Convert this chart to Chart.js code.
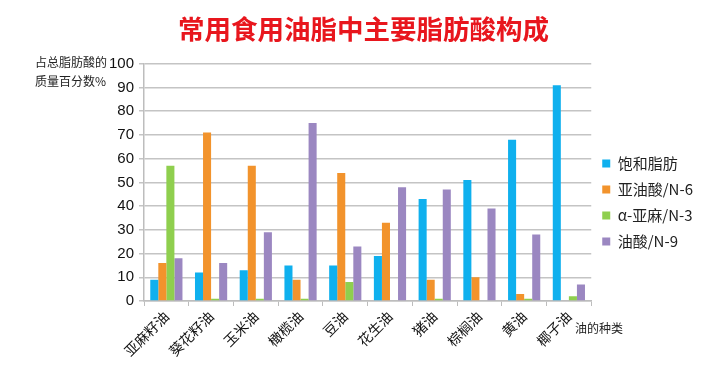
<!DOCTYPE html>
<html>
<head>
<meta charset="utf-8">
<script src="https://cdn.jsdelivr.net/npm/chart.js@4"></script>
<style>
    html, body { margin: 0; padding: 0; background: #ffffff; }
    #fatChart { display: block; }
</style>
</head>
<body>
<canvas id="fatChart" width="718" height="373"></canvas>
<script>
const categories = ["亚麻籽油", "葵花籽油", "玉米油", "橄榄油", "豆油", "花生油", "猪油", "棕榈油", "黄油", "椰子油"];
const saturated = [9, 12, 13, 15, 15, 19, 43, 51, 68, 91];
const linoleic = [16, 71, 57, 9, 54, 33, 9, 10, 3, 0];
const alphaLinolenic = [57, 1, 1, 1, 8, 0.3, 1, 0.3, 1, 2];
const oleic = [18, 16, 29, 75, 23, 48, 47, 39, 28, 7];
const yTicks = [0, 10, 20, 30, 40, 50, 60, 70, 80, 90, 100];

const COLORS = {
    blue: "#0fb0ee",
    orange: "#f2932c",
    green: "#8fcf4e",
    purple: "#9b87c1",
};

const CJK = "'Noto Sans CJK SC', sans-serif";
const NUM = "'Liberation Sans', 'Noto Sans CJK SC', sans-serif";

// axis captions sit outside the plot, drawn as plain text
const axisCaptions = {
    id: "axisCaptions",
    afterDraw(chart) {
        const ctx = chart.ctx;
        ctx.save();
        ctx.fillStyle = "#222";
        ctx.font = "12px " + CJK;
        ctx.textBaseline = "middle";
        ctx.textAlign = "left";
        ctx.fillText("占总脂肪酸的", 35, 62);
        ctx.fillText("质量百分数%", 35, 81);
        ctx.fillText("油的种类", 575, 328);
        ctx.restore();
    },
};

new Chart(document.getElementById("fatChart"), {
    type: "bar",

    data: {
        labels: categories,

        datasets: [
            { label: "饱和脂肪", data: saturated, backgroundColor: COLORS.blue },
            { label: "亚油酸/N-6", data: linoleic, backgroundColor: COLORS.orange },
            { label: "α-亚麻/N-3", data: alphaLinolenic, backgroundColor: COLORS.green },
            { label: "油酸/N-9", data: oleic, backgroundColor: COLORS.purple },
        ],
    },

    options: {
        responsive: false,
        animation: false,

        categoryPercentage: 0.72,
        barPercentage: 1.0,

        layout: {
            padding: { left: 24, right: 15, top: 0, bottom: 0 },
        },

        plugins: {
            title: {
                display: true,
                text: "常用食用油脂中主要脂肪酸构成",
                color: "#e8161d",
                font: { family: CJK, size: 26.5, weight: "bold" },
                padding: { top: 13, bottom: 19 },
            },

            legend: {
                position: "right",
                fullSize: false,
                align: "center",
                // blank title only pushes the items down a little
                title: {
                    display: true,
                    text: " ",
                    font: { size: 10 },
                    padding: 14,
                },
                labels: {
                    boxWidth: 8,
                    boxHeight: 8,
                    padding: 11,
                    color: "#222",
                    font: { family: CJK, size: 15 },
                },
            },

            tooltip: { enabled: false },
        },

        scales: {
            x: {
                grid: {
                    offset: true,
                    drawOnChartArea: false,
                    drawTicks: true,
                    tickLength: 5,
                    color: "#bdbdbd",
                },
                border: { color: "#bdbdbd", width: 1.5 },
                ticks: {
                    maxRotation: 45,
                    minRotation: 45,
                    color: "#111",
                    font: { family: CJK, size: 14 },
                    padding: 2,
                },
                afterFit: (scale) => {
                    scale.height = 72;
                },
            },

            y: {
                min: yTicks[0],
                max: yTicks[yTicks.length - 1],
                grid: {
                    color: "#c4c4c4",
                    lineWidth: 1.5,
                    drawTicks: true,
                    tickLength: 5,
                },
                border: { color: "#bdbdbd", width: 1.5 },
                ticks: {
                    stepSize: yTicks[1] - yTicks[0],
                    padding: 5,
                    color: "#111",
                    font: { family: NUM, size: 15 },
                },
                afterFit: (scale) => {
                    scale.width = 120;
                },
            },
        },
    },

    plugins: [axisCaptions],
});
</script>
</body>
</html>
